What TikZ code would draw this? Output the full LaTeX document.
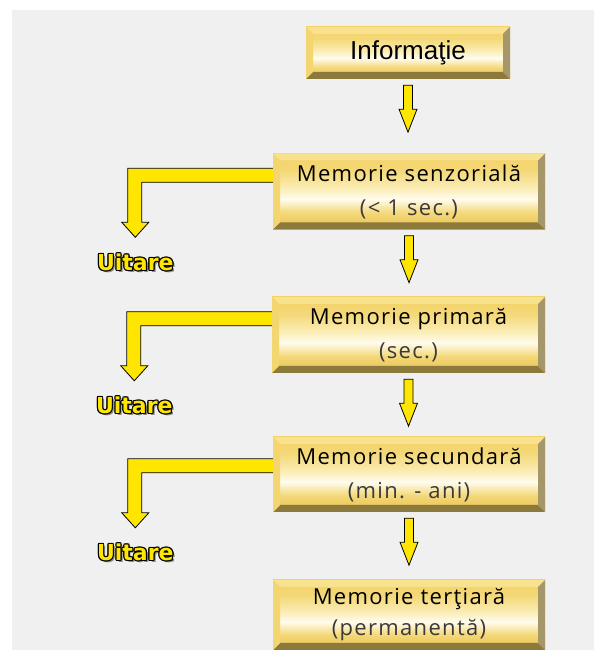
\documentclass[tikz,border=0pt]{standalone}
\usepackage{fontspec}
\setmainfont{Open Sans}[LetterSpace=6]
\newfontfamily\arialfont{Liberation Sans}
\newfontfamily\uitfont{DejaVu Sans}
\usetikzlibrary{positioning,calc}

\definecolor{panelgray}{HTML}{F0F0F0}
\definecolor{arrowyellow}{HTML}{FFE600}
\definecolor{shadowgray}{HTML}{8A8A8A}
\definecolor{subgray}{HTML}{3A3A3A}
\definecolor{goldlow}{HTML}{E6BF50}
\definecolor{goldmid}{HTML}{F4D878}
\definecolor{goldshine}{HTML}{FFFCEE}
\definecolor{goldpale}{HTML}{FAEBB0}
\definecolor{goldtop}{HTML}{F3D164}
\definecolor{bevtop}{HTML}{F8E28E}
\definecolor{bevleft}{HTML}{F4D670}
\definecolor{bevbottom}{HTML}{8C793C}
\definecolor{bevright}{HTML}{A6976A}

\pgfdeclareverticalshading{goldface}{100bp}{color(0bp)=(goldlow); color(25bp)=(goldlow);
  color(36bp)=(goldmid); color(45bp)=(goldshine); color(53bp)=(goldpale);
  color(64bp)=(goldmid); color(75bp)=(goldtop); color(100bp)=(goldtop)}

% rama tesita a casetelor
\newcommand\bevelframe{%
  \path (path picture bounding box.north west) coordinate (bnw)
        (path picture bounding box.north east) coordinate (bne)
        (path picture bounding box.south west) coordinate (bsw)
        (path picture bounding box.south east) coordinate (bse);
  \fill[bevtop] (bnw) -- (bne) -- ([xshift=-7pt,yshift=-7pt]bne) -- ([xshift=7pt,yshift=-7pt]bnw) -- cycle;
  \fill[bevbottom] (bsw) -- (bse) -- ([xshift=-7pt,yshift=7pt]bse) -- ([xshift=7pt,yshift=7pt]bsw) -- cycle;
  \fill[bevleft] (bnw) -- ([xshift=7pt,yshift=-7pt]bnw) -- ([xshift=7pt,yshift=7pt]bsw) -- (bsw) -- cycle;
  \fill[bevright] (bne) -- ([xshift=-7pt,yshift=-7pt]bne) -- ([xshift=-7pt,yshift=7pt]bse) -- (bse) -- cycle;
}

% text conturat (Uitare)
\newcommand\olcopy[3]{\rlap{\hspace*{#1}\raisebox{#2}{#3}}}
\newcommand\outlined[1]{%
  \olcopy{2.2pt}{-2.2pt}{\textcolor{shadowgray}{#1}}%
  \olcopy{1.2pt}{0pt}{\textcolor{black}{#1}}%
  \olcopy{-1.2pt}{0pt}{\textcolor{black}{#1}}%
  \olcopy{0pt}{1.2pt}{\textcolor{black}{#1}}%
  \olcopy{0pt}{-1.2pt}{\textcolor{black}{#1}}%
  \olcopy{0.85pt}{0.85pt}{\textcolor{black}{#1}}%
  \olcopy{-0.85pt}{0.85pt}{\textcolor{black}{#1}}%
  \olcopy{0.85pt}{-0.85pt}{\textcolor{black}{#1}}%
  \olcopy{-0.85pt}{-0.85pt}{\textcolor{black}{#1}}%
  \textcolor{arrowyellow}{#1}}

\tikzset{
  membox/.style={shading=goldface, minimum width=272pt, minimum height=76pt,
    inner sep=0pt, align=center, font=\fontsize{22}{34}\selectfont,
    path picture={\bevelframe}},
  flowarrow/.style={fill=arrowyellow, draw=black, line width=0.8pt, line join=miter},
  uitare/.style={font=\uitfont\bfseries\fontsize{22}{24}\selectfont, anchor=base, inner sep=0pt}
}

\begin{document}
\begin{tikzpicture}[x=1pt,y=1pt]
  \useasboundingbox (0,0) rectangle (594,650);
  \fill[white] (0,0) rectangle (594,650);
  \fill[panelgray] (12,0) rectangle (594,640);

  %Casete
  \node[membox, minimum width=204pt, minimum height=52pt, font=\arialfont\fontsize{26}{30}\selectfont] (info) at (408,597) {Informaţie};
  \node[membox] (senz) at (409,458.5) {Memorie senzorială\\\textcolor{subgray}{(< 1 sec.)}};
  \node[membox, minimum width=273pt] (prim) at (408.5,315) {Memorie primară\\\textcolor{subgray}{(sec.)}};
  \node[membox, minimum height=75pt] (sec) at (409,175.5) {Memorie secundară\\\textcolor{subgray}{(min. - ani)}};
  \node[membox, minimum height=70pt, font=\fontsize{22}{31}\selectfont] (tert) at (409,35) {Memorie terţiară\\\textcolor{subgray}{(permanentă)}};

  %Sageti in jos
  \foreach \a in {info,senz,prim,sec}
    \draw[flowarrow] ($(\a.south)+(-4.5,-6)$) -- ++(9,0) -- ++(0,-24) -- ++(4.5,0)
      -- ++(-9,-23) -- ++(-9,23) -- ++(4.5,0) -- cycle;

  %Sageti spre Uitare
  \foreach \n/\d/\k in {senz/15/1, prim/15/2, sec/22/3}{
    \filldraw[flowarrow] ($(\n.north west)+(0,-\d)$) -- ++(-145,0) -- ++(0,-54) -- ++(-6,0)
      -- ++(13.5,-15) coordinate (tip\k) -- ++(13.5,15) -- ++(-7,0) -- ++(0,40) -- ++(131,0);
    \node[uitare] (uitare\k) at ($(tip\k)+(0,-33)$) {\outlined{Uitare}};
  }
\end{tikzpicture}
\end{document}
